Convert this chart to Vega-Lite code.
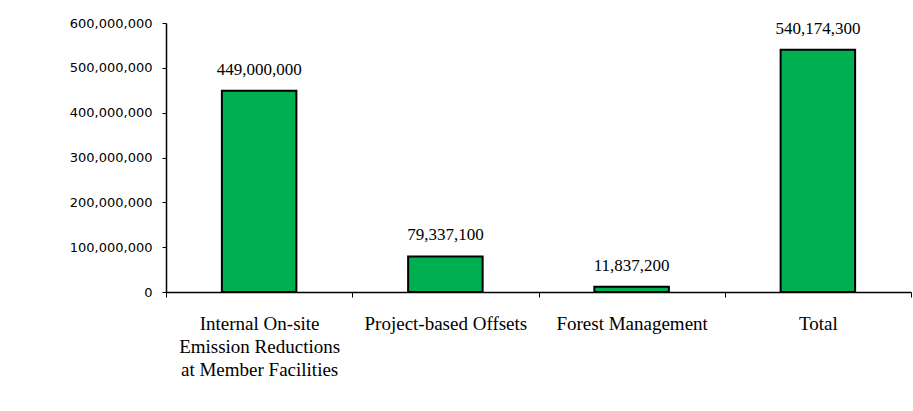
{
  "$schema": "https://vega.github.io/schema/vega-lite/v6.json",
  "width": 745,
  "height": 269,
  "autosize": {"type": "none"},
  "padding": {"left": 166, "top": 23, "right": 2, "bottom": 119},
  "background": "white",
  "config": {"view": {"stroke": null}},
  "data": {
    "values": [
      {"category": "Internal On-site|Emission Reductions|at Member Facilities", "value": 449000000},
      {"category": "Project-based Offsets", "value": 79337100},
      {"category": "Forest Management", "value": 11837200},
      {"category": "Total", "value": 540174300}
    ]
  },
  "encoding": {
    "x": {
      "field": "category",
      "type": "nominal",
      "sort": null,
      "scale": {"paddingInner": 0, "paddingOuter": 0},
      "axis": {
        "title": null,
        "labelAngle": 0,
        "tickBand": "extent",
        "labelExpr": "split(datum.label, '|')",
        "labelFont": "Liberation Serif",
        "labelFontSize": 19,
        "labelColor": "black",
        "labelLineHeight": 23,
        "labelBaseline": "top",
        "labelPadding": 17,
        "labelLimit": 300,
        "tickSize": 5,
        "tickColor": "black",
        "domainColor": "black",
        "domainWidth": 1.5,
        "grid": false
      }
    },
    "y": {
      "field": "value",
      "type": "quantitative",
      "scale": {"domain": [0, 600000000], "nice": false},
      "axis": {
        "title": null,
        "values": [0, 100000000, 200000000, 300000000, 400000000, 500000000, 600000000],
        "labelExpr": "format(datum.value, ',')",
        "labelFont": "DejaVu Sans",
        "labelFontSize": 13,
        "labelColor": "black",
        "labelPadding": 10,
        "tickSize": 4,
        "tickColor": "black",
        "domainColor": "black",
        "domainWidth": 1.5,
        "grid": false
      }
    }
  },
  "layer": [
    {
      "mark": {"type": "bar", "width": {"band": 0.4}, "fill": "#00B050", "stroke": "black", "strokeWidth": 2}
    },
    {
      "mark": {"type": "text", "baseline": "bottom", "dy": -12, "font": "Liberation Serif", "fontSize": 17, "color": "black"},
      "encoding": {"text": {"field": "value", "type": "quantitative", "format": ","}}
    }
  ]
}
